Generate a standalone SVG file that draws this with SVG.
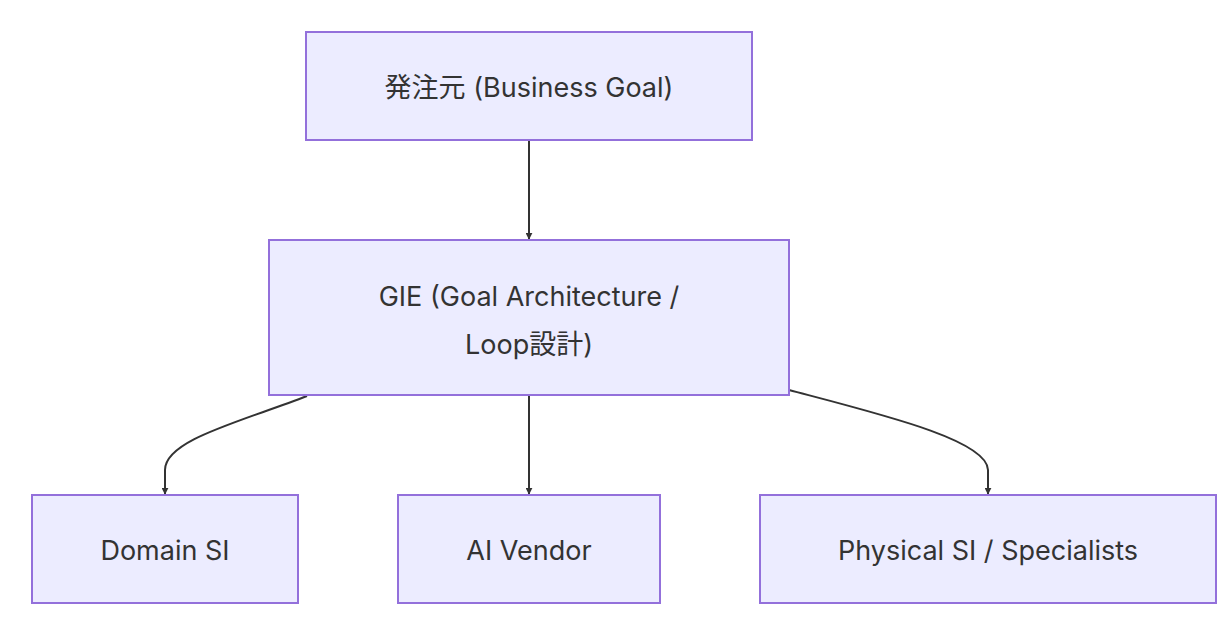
<svg xmlns="http://www.w3.org/2000/svg" width="1232" height="620" viewBox="0 0 1232 620">
<style>
.n{fill:#ECECFF;stroke:#9370DB;stroke-width:2}
.t{font-family:Inter,"Liberation Sans","Noto Sans CJK JP",sans-serif;font-size:27px;fill:#333;text-anchor:middle;dominant-baseline:central}
.e{fill:none;stroke:#333;stroke-width:2;marker-end:url(#a)}
</style>
<defs><marker id="a" viewBox="0 0 10 10" refX="9" refY="5" markerWidth="7" markerHeight="7" orient="auto" markerUnits="userSpaceOnUse" ><path d="M0,0L10,5L0,10z" fill="#333"/></marker></defs>
<rect width="1232" height="620" fill="#fff"/>
<g id="edges">
<path class="e" d="M529,140V239"/>
<path class="e" d="M529,396V494"/>
<path class="e" d="M307,396C240,422 165,440 165,470V494"/>
<path class="e" d="M789,390C880,414 988,440 988,470V494"/>
</g>
<g id="n1"><rect class="n" x="306" y="32" width="446" height="108"/><text class="t" x="529" y="87">発注元 (Business Goal)</text></g>
<g id="n2"><rect class="n" x="269" y="240" width="520" height="155"/><text class="t" x="529" y="296">GIE (Goal Architecture /</text><text class="t" x="529" y="344">Loop設計)</text></g>
<g id="n3"><rect class="n" x="32" y="495" width="266" height="108"/><text class="t" x="165" y="550">Domain SI</text></g>
<g id="n4"><rect class="n" x="398" y="495" width="262" height="108"/><text class="t" x="529" y="550">AI Vendor</text></g>
<g id="n5"><rect class="n" x="760" y="495" width="456" height="108"/><text class="t" x="988" y="550">Physical SI / Specialists</text></g>
</svg>
